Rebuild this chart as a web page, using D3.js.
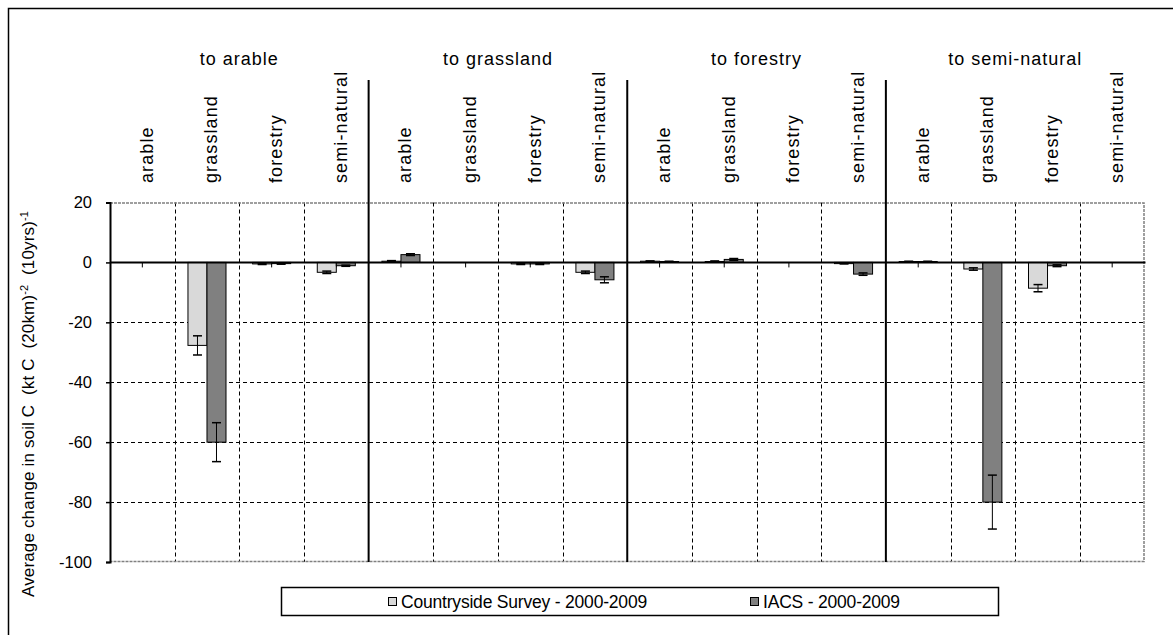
<!DOCTYPE html>
<html>
<head>
<meta charset="utf-8">
<script src="https://cdn.jsdelivr.net/npm/d3@7"></script>
<style>
  body { margin: 0; background: #fff; }
  text { font-family: "Liberation Sans", Arial, sans-serif; fill: #000; }
</style>
</head>
<body>
<div id="chart"></div>
<script>
// categories: land use "from" within each "to" group
var groups = ["to arable", "to grassland", "to forestry", "to semi-natural"];
var fromTypes = ["arable", "grassland", "forestry", "semi-natural"];

// series values, one per group x from-type (16)
var csValues   = [0, -27.7, -0.5, -3.3,   0.4, 0, -0.5, -3.3,   0.4, 0.3, 0, -0.4,   0.3, -2.2, -8.6, 0];
var csErrors   = [0, 3.2, 0.2, 0.4,       0.2, 0, 0.2, 0.4,     0.1, 0.2, 0, 0.1,    0.1, 0.4, 1.2, 0];
var iacsValues = [0, -60, -0.4, -1.1,     2.6, 0, -0.5, -5.8,   0.3, 1.0, 0, -3.9,   0.3, -80, -1.1, 0];
var iacsErrors = [0, 6.5, 0.2, 0.2,       0.3, 0, 0.2, 1.0,     0.1, 0.3, 0, 0.4,    0.1, 9, 0.3, 0];

var seriesNames = ["Countryside Survey - 2000-2009", "IACS - 2000-2009"];
var seriesColors = ["#d9d9d9", "#808080"];
var yTicks = [20, 0, -20, -40, -60, -80, -100];

// set the dimensions of the plot area
var width = 1173, height = 635;
var plot = {left: 110, right: 1144.5, top: 202.5, bottom: 562};

var svg = d3.select("#chart")
    .append("svg")
    .attr("width", width)
    .attr("height", height);

// outer frame (right and bottom run off the picture)
svg.append("rect")
    .attr("x", 8.5).attr("y", 8.5)
    .attr("width", 1200).attr("height", 700)
    .style("fill", "none")
    .style("stroke", "#000")
    .style("stroke-width", 1.5);

var n = groups.length * fromTypes.length;
var idx = d3.range(n);

var x = d3.scaleBand()
    .domain(idx)
    .range([plot.left, plot.right])
    .paddingInner(0).paddingOuter(0);

var y = d3.scaleLinear()
    .domain([-100, 20])
    .range([plot.bottom, plot.top]);

var catW = x.bandwidth();
var barW = catW / 3.4;

// horizontal gridlines
svg.append("g")
    .selectAll("line")
    .data(yTicks.filter(function(d) { return d !== 0 && d !== 20 && d !== -100; }))
  .enter().append("line")
    .attr("x1", plot.left).attr("x2", plot.right)
    .attr("y1", function(d) { return Math.round(y(d)) + 0.5; })
    .attr("y2", function(d) { return Math.round(y(d)) + 0.5; })
    .style("stroke", "#000")
    .style("stroke-dasharray", "4,3");

// vertical dashed gridlines between categories (not group borders)
svg.append("g")
    .selectAll("line")
    .data(idx.filter(function(i) { return i > 0 && i % 4 !== 0; }))
  .enter().append("line")
    .attr("x1", function(i) { return Math.round(x(i)) + 0.5; })
    .attr("x2", function(i) { return Math.round(x(i)) + 0.5; })
    .attr("y1", plot.top).attr("y2", plot.bottom)
    .style("stroke", "#000")
    .style("stroke-dasharray", "4,3");

// plot area border: top, right, bottom in grey
svg.append("path")
    .attr("d", "M" + plot.left + "," + (plot.top + 0.5) + "H" + (plot.right - 0.5) +
               "V" + (plot.bottom - 0.5) + "H" + plot.left)
    .style("fill", "none")
    .style("stroke", "#808080")
    .style("stroke-width", 1.5)
    .style("stroke-dasharray", "3,1");

// group separators reaching up into the header
svg.append("g")
    .selectAll("line")
    .data([4, 8, 12])
  .enter().append("line")
    .attr("x1", function(i) { return x(i); })
    .attr("x2", function(i) { return x(i); })
    .attr("y1", 80).attr("y2", plot.bottom)
    .style("stroke", "#000")
    .style("stroke-width", 2);

// small ticks at category centres under the zero line
svg.append("g")
    .selectAll("line")
    .data(idx)
  .enter().append("line")
    .attr("x1", function(i) { return x(i) + catW / 2; })
    .attr("x2", function(i) { return x(i) + catW / 2; })
    .attr("y1", y(0)).attr("y2", y(0) + 5)
    .style("stroke", "#000");

// bars
var series = [
    {name: seriesNames[0], values: csValues, errors: csErrors, color: seriesColors[0]},
    {name: seriesNames[1], values: iacsValues, errors: iacsErrors, color: seriesColors[1]}
];

series.forEach(function(s, si) {
    var bx = function(i) { return x(i) + catW / 2 - barW + si * barW; };

    svg.append("g")
        .selectAll("rect")
        .data(idx.filter(function(i) { return s.values[i] !== 0; }))
      .enter().append("rect")
        .attr("x", function(i) { return bx(i); })
        .attr("y", function(i) { return Math.min(y(0), y(s.values[i])); })
        .attr("width", barW)
        .attr("height", function(i) { return Math.abs(y(s.values[i]) - y(0)); })
        .style("fill", s.color)
        .style("stroke", "#000")
        .style("stroke-width", 1);

    // error bars
    var eb = svg.append("g")
        .selectAll("g")
        .data(idx.filter(function(i) { return s.values[i] !== 0; }))
      .enter().append("g");

    eb.append("line")
        .attr("x1", function(i) { return bx(i) + barW / 2; })
        .attr("x2", function(i) { return bx(i) + barW / 2; })
        .attr("y1", function(i) { return y(s.values[i] + s.errors[i]); })
        .attr("y2", function(i) { return y(s.values[i] - s.errors[i]); })
        .style("stroke", "#000");

    [1, -1].forEach(function(sign) {
        eb.append("line")
            .attr("x1", function(i) { return bx(i) + barW / 2 - 4.5; })
            .attr("x2", function(i) { return bx(i) + barW / 2 + 4.5; })
            .attr("y1", function(i) { return y(s.values[i] + sign * s.errors[i]); })
            .attr("y2", function(i) { return y(s.values[i] + sign * s.errors[i]); })
            .style("stroke", "#000")
            .style("stroke-width", 1.5);
    });
});

// zero line
svg.append("line")
    .attr("x1", plot.left).attr("x2", plot.right + 1)
    .attr("y1", y(0)).attr("y2", y(0))
    .style("stroke", "#000")
    .style("stroke-width", 2);

// Add the Y Axis (plain hyphen for negatives, as in the original)
var yAxis = svg.append("g")
    .attr("transform", "translate(" + plot.left + ",0)")
    .call(d3.axisLeft(y)
        .tickValues(yTicks)
        .tickSize(4)
        .tickPadding(14)
        .tickFormat(function(d) { return String(d); }));

yAxis.select(".domain").style("stroke-width", 2);
yAxis.selectAll(".tick line").style("stroke-width", 1.5);
yAxis.selectAll("text")
    .style("font-size", "16.5px")
    .style("font-family", "Liberation Sans, Arial, sans-serif");

// y axis title with superscripts
var yTitle = svg.append("text")
    .attr("transform", "translate(34,597) rotate(-90)")
    .attr("text-anchor", "start")
    .style("font-size", "17px")
    .style("letter-spacing", "0.15px")
    .style("white-space", "pre");

yTitle.append("tspan").text("Average change in soil C  (kt C  (20km)");
yTitle.append("tspan").attr("dy", -6).style("font-size", "11px").text("-2");
yTitle.append("tspan").attr("dy", 6).text("  (10yrs)");
yTitle.append("tspan").attr("dy", -6).style("font-size", "11px").text("-1");

// group headers
svg.append("g")
    .selectAll("text")
    .data(groups)
  .enter().append("text")
    .attr("x", function(d, gi) { return x(gi * 4 + 2); })
    .attr("y", 65)
    .attr("text-anchor", "middle")
    .style("font-size", "18px")
    .style("letter-spacing", "1px")
    .text(function(d) { return d; });

// rotated from-type labels
svg.append("g")
    .selectAll("text")
    .data(idx)
  .enter().append("text")
    .attr("transform", function(i) {
        return "translate(" + (x(i) + catW / 2 + 10.5) + ",183) rotate(-90)";
    })
    .attr("text-anchor", "start")
    .style("font-size", "18px")
    .style("letter-spacing", "1.1px")
    .text(function(i) { return fromTypes[i % 4]; });

// legend
var legend = svg.append("g");

legend.append("rect")
    .attr("x", 281.5).attr("y", 587.5)
    .attr("width", 717).attr("height", 28)
    .style("fill", "#fff")
    .style("stroke", "#000")
    .style("stroke-width", 1.5);

var legendX = [388.5, 750.5];
series.forEach(function(s, si) {
    legend.append("rect")
        .attr("x", legendX[si]).attr("y", 597.5)
        .attr("width", 8).attr("height", 8)
        .style("fill", s.color)
        .style("stroke", "#000");
    legend.append("text")
        .attr("x", legendX[si] + 12.5)
        .attr("y", 607.5)
        .style("font-size", "17.5px")
        .style("letter-spacing", "-0.2px")
        .text(s.name);
});
</script>
</body>
</html>
